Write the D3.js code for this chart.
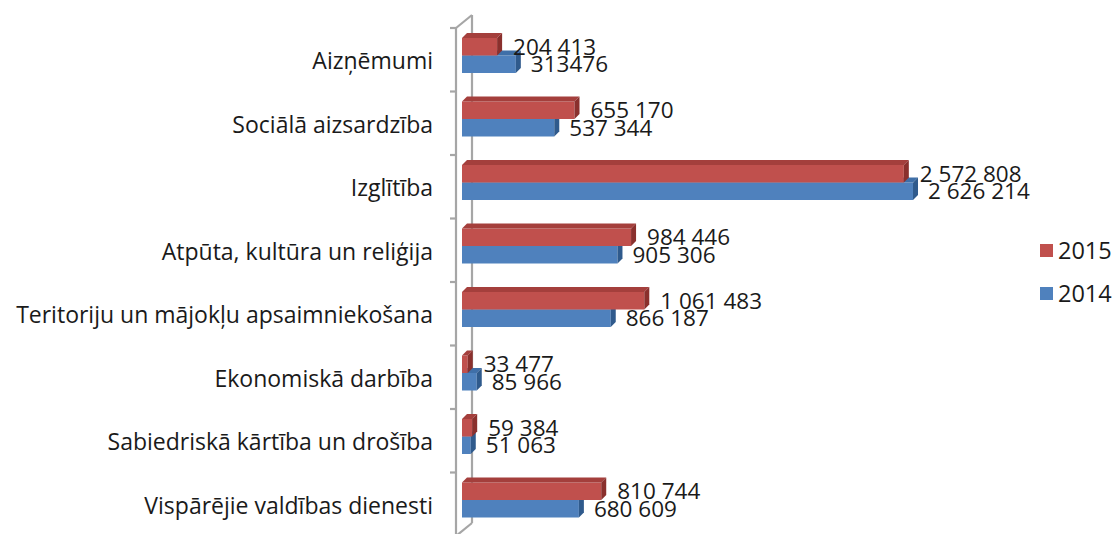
<!DOCTYPE html>
<html>
<head>
<meta charset="utf-8">
<script src="https://cdn.jsdelivr.net/npm/d3@7"></script>
<style>
  html, body { margin: 0; padding: 0; background: #ffffff; }
  svg { display: block; }
  text { font-family: "Open Sans", "DejaVu Sans", sans-serif; fill: #1a1a1a; }
</style>
</head>
<body>
<svg id="chart" width="1118" height="534"></svg>
<script>
// ---- data ----
const categories = [
  "Aizņēmumi",
  "Sociālā aizsardzība",
  "Izglītība",
  "Atpūta, kultūra un reliģija",
  "Teritoriju un mājokļu apsaimniekošana",
  "Ekonomiskā darbība",
  "Sabiedriskā kārtība un drošība",
  "Vispārējie valdības dienesti"
];
const seriesNames = ["2015", "2014"];
const values2015 = [204413, 655170, 2572808, 984446, 1061483, 33477, 59384, 810744];
const values2014 = [313476, 537344, 2626214, 905306, 866187, 85966, 51063, 680609];
const labels2015 = ["204 413", "655 170", "2 572 808", "984 446", "1 061 483", "33 477", "59 384", "810 744"];
const labels2014 = ["313476", "537 344", "2 626 214", "905 306", "866 187", "85 966", "51 063", "680 609"];

// ---- layout ----
const svg = d3.select("#chart");
const x = d3.scaleLinear().domain([0, 3000000]).range([462, 977.2]);
const y = d3.scaleBand().domain(categories).range([28, 536]).padding(0);
const D = 5;            // 3D depth offset
const barOffset = 10;   // from band top to red front top
const barH = 17.5;

const colors = {
  "2015": { front: "#C0504D", top: "#A43F3C", side: "#8A302D" },
  "2014": { front: "#4F81BD", top: "#3F6FA8", side: "#2F5A8C" }
};

// ---- wall ----
const wall = svg.append("g").attr("stroke", "#a6a6a6").attr("stroke-width", 2.2).attr("fill", "none");
const wx0 = 456, wx1 = 472, wdy = 13;
const yTop = y.range()[0], yBot = y.range()[1];
wall.append("line").attr("x1", wx0).attr("y1", yTop).attr("x2", wx0).attr("y2", yBot);
wall.append("line").attr("x1", wx1).attr("y1", yTop - wdy).attr("x2", wx1).attr("y2", yBot - wdy);
wall.append("line").attr("x1", wx0).attr("y1", yTop).attr("x2", wx1).attr("y2", yTop - wdy);
wall.append("line").attr("x1", wx0).attr("y1", yBot).attr("x2", wx1).attr("y2", yBot - wdy);
const tickYs = categories.map(c => y(c)).concat([yBot]);
wall.selectAll("line.tick").data(tickYs).enter().append("line")
  .attr("class", "tick")
  .attr("x1", wx0 - 6).attr("x2", wx0)
  .attr("y1", d => d).attr("y2", d => d);

// ---- bars ----
function bar3d(g, x0, x1, yt, h, c) {
  g.append("rect").attr("x", x0).attr("y", yt).attr("width", Math.max(0, x1 - x0)).attr("height", h).attr("fill", c.front);
  g.append("path").attr("d", `M${x0},${yt} L${x0 + D},${yt - D} L${x1 + D},${yt - D} L${x1},${yt} Z`).attr("fill", c.top);
  g.append("path").attr("d", `M${x1},${yt} L${x1 + D},${yt - D} L${x1 + D},${yt + h - D} L${x1},${yt + h} Z`).attr("fill", c.side);
}

const barsG = svg.append("g");
categories.forEach((cat, i) => {
  const g = barsG.append("g");
  const yt = y(cat) + barOffset;
  bar3d(g, x(0), x(values2014[i]), yt + barH, barH, colors["2014"]);
  bar3d(g, x(0), x(values2015[i]), yt, barH, colors["2015"]);
});

// ---- value labels ----
const lbl = svg.append("g").attr("font-size", 22.5);
categories.forEach((cat, i) => {
  const yt = y(cat) + barOffset;
  lbl.append("text").attr("x", x(values2015[i]) + 16).attr("y", yt + barH / 2).attr("dy", "0.36em").text(labels2015[i]);
  lbl.append("text").attr("x", x(values2014[i]) + 15).attr("y", yt + barH * 1.5).attr("dy", "0.36em").text(labels2014[i]);
});

// ---- category labels ----
svg.append("g").attr("font-size", 23).selectAll("text").data(categories).enter().append("text")
  .attr("x", 433).attr("y", d => y(d) + y.bandwidth() / 2 + 1).attr("dy", "0.36em")
  .attr("text-anchor", "end").text(d => d);

// ---- legend ----
const leg = svg.append("g").attr("font-size", 23.5);
seriesNames.forEach((s, i) => {
  const ly = 251 + i * 43;
  leg.append("rect").attr("x", 1040).attr("y", ly - 7).attr("width", 13).attr("height", 13).attr("fill", colors[s].front);
  leg.append("text").attr("x", 1058).attr("y", ly).attr("dy", "0.36em").text(s);
});
</script>
</body>
</html>
